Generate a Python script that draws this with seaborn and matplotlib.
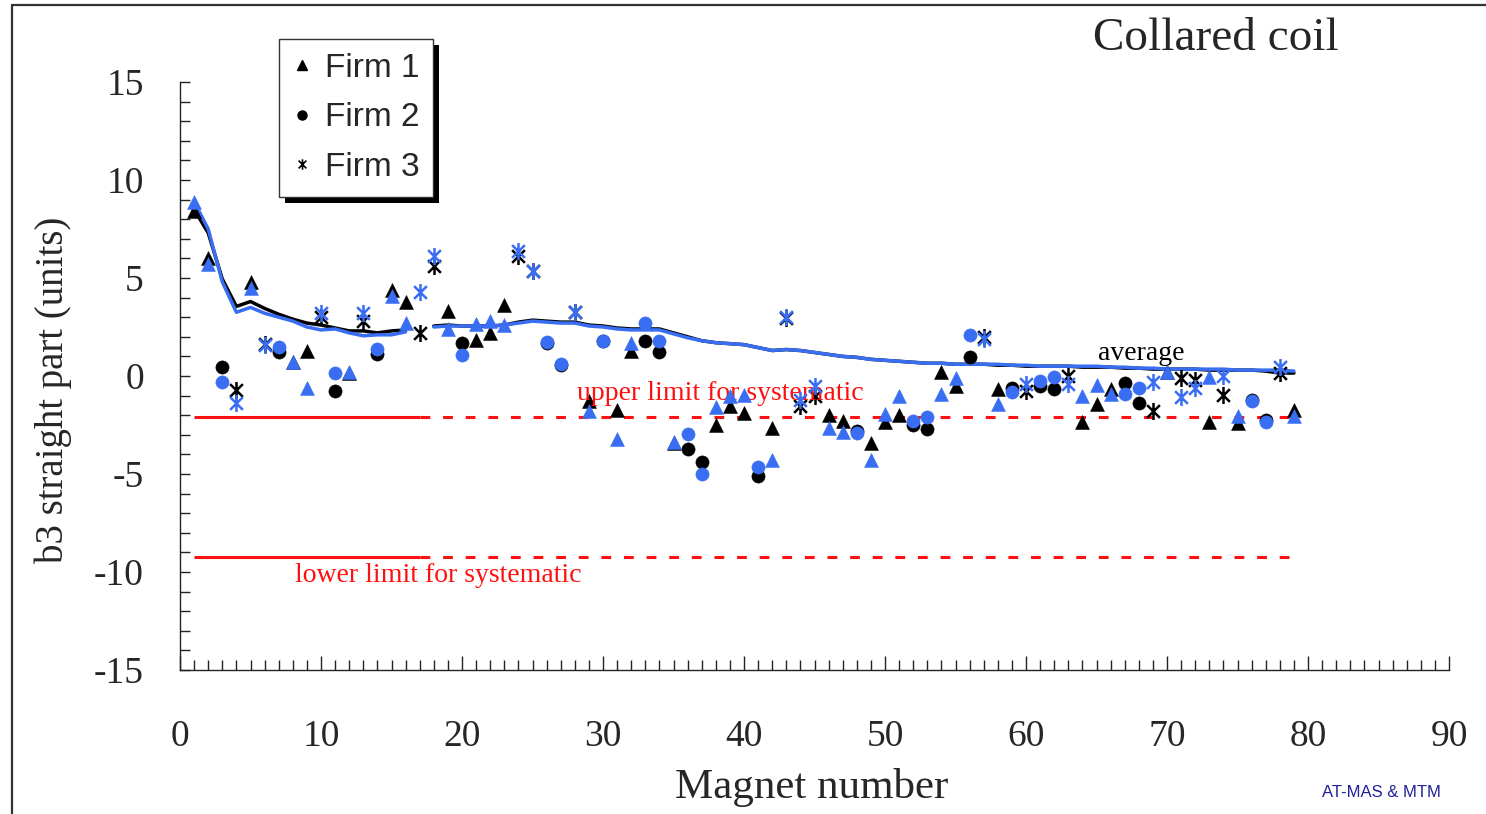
import numpy as np
import pandas as pd
import matplotlib
matplotlib.use("Agg")
import matplotlib.pyplot as plt
import seaborn as sns
from matplotlib.lines import Line2D
from matplotlib.patches import Rectangle
from matplotlib.path import Path
from matplotlib.ticker import MultipleLocator

# ---------------- data ----------------
magnet = list(range(1, 80))
firm = ["Firm 1", "Firm 1", "Firm 2", "Firm 3", "Firm 1", "Firm 3", "Firm 2", "Firm 1", "Firm 1", "Firm 3",
        "Firm 2", "Firm 1", "Firm 3", "Firm 2", "Firm 1", "Firm 1", "Firm 3", "Firm 3", "Firm 1", "Firm 2",
        "Firm 1", "Firm 1", "Firm 1", "Firm 3", "Firm 3", "Firm 2", "Firm 2", "Firm 3", "Firm 1", "Firm 2",
        "Firm 1", "Firm 1", "Firm 2", "Firm 2", "Firm 1", "Firm 2", "Firm 2", "Firm 1", "Firm 1", "Firm 1",
        "Firm 2", "Firm 1", "Firm 3", "Firm 3", "Firm 3", "Firm 1", "Firm 1", "Firm 2", "Firm 1", "Firm 1",
        "Firm 1", "Firm 2", "Firm 2", "Firm 1", "Firm 1", "Firm 2", "Firm 3", "Firm 1", "Firm 2", "Firm 3",
        "Firm 2", "Firm 2", "Firm 3", "Firm 1", "Firm 1", "Firm 1", "Firm 2", "Firm 2", "Firm 3", "Firm 1",
        "Firm 3", "Firm 3", "Firm 1", "Firm 3", "Firm 1", "Firm 2", "Firm 2", "Firm 3", "Firm 1"]

b3_black = [8.4, 6.0, 0.45, -0.7, 4.8, 1.65, 1.2, 0.7, 1.3, 3.0,
            -0.75, 0.15, 2.8, 1.1, 4.4, 3.8, 2.2, 5.6, 3.3, 1.7,
            1.85, 2.2, 3.6, 6.1, 5.35, 1.7, 0.55, 3.25, -1.3, 1.8,
            -1.75, 1.3, 1.8, 1.2, -3.4, -3.7, -4.4, -2.5, -1.55, -1.9,
            -5.1, -2.65, 2.95, -1.55, -1.0, -2.0, -2.3, -2.8, -3.4, -2.35,
            -2.0, -2.5, -2.7, 0.2, -0.5, 0.95, 2.0, -0.65, -0.6, -0.75,
            -0.5, -0.65, 0.0, -2.35, -1.45, -0.65, -0.35, -1.4, -1.8, 0.2,
            -0.1, -0.2, -2.35, -0.95, -2.4, -1.2, -2.25, 0.15, -1.75]

b3_blue = [8.9, 5.7, -0.3, -1.4, 4.5, 1.6, 1.5, 0.7, -0.6, 3.2,
           0.15, 0.2, 3.2, 1.4, 4.1, 2.7, 4.3, 6.1, 2.4, 1.05,
           2.65, 2.8, 2.6, 6.4, 5.35, 1.75, 0.6, 3.25, -1.8, 1.8,
           -3.2, 1.7, 2.7, 1.8, -3.35, -2.95, -5.0, -1.6, -1.0, -0.95,
           -4.65, -4.3, 3.0, -1.2, -0.5, -2.65, -2.85, -2.9, -4.3, -1.95,
           -1.0, -2.3, -2.1, -0.9, -0.1, 2.1, 1.9, -1.45, -0.8, -0.4,
           -0.25, -0.05, -0.4, -1.0, -0.45, -0.9, -0.9, -0.6, -0.3, 0.2,
           -1.05, -0.6, -0.05, 0.0, -2.05, -1.3, -2.35, 0.45, -2.05]

avg_black = [8.5, 7.3, 4.95, 3.55, 3.8, 3.45, 3.15, 2.9, 2.7, 2.6,
             2.45, 2.3, 2.3, 2.2, 2.3, 2.35, np.nan, 2.55, 2.6, 2.55,
             2.55, 2.55, 2.6, 2.75, 2.85, 2.8, 2.75, 2.75, 2.6, 2.55,
             2.45, 2.4, 2.4, 2.4, 2.2, 2.0, 1.8, 1.7, 1.65, 1.6,
             1.45, 1.3, 1.35, 1.3, 1.2, 1.1, 1.0, 0.95, 0.85, 0.8,
             0.75, 0.7, 0.65, 0.65, 0.6, 0.6, 0.6, 0.55, 0.55, 0.5,
             0.5, 0.5, 0.5, 0.45, 0.45, 0.45, 0.4, 0.4, 0.35, 0.35,
             0.35, 0.35, 0.3, 0.3, 0.3, 0.3, 0.25, 0.15, 0.15]

avg_blue = [8.9, 7.5, 4.8, 3.25, 3.5, 3.2, 3.0, 2.8, 2.5, 2.35,
            2.4, 2.2, 2.05, 2.1, 2.1, 2.25, np.nan, 2.5, 2.55, 2.55,
            2.55, 2.55, 2.6, 2.7, 2.8, 2.75, 2.7, 2.7, 2.55, 2.5,
            2.4, 2.35, 2.35, 2.35, 2.15, 1.95, 1.8, 1.7, 1.65, 1.6,
            1.45, 1.3, 1.35, 1.3, 1.2, 1.1, 1.0, 0.95, 0.85, 0.8,
            0.75, 0.7, 0.65, 0.65, 0.6, 0.6, 0.6, 0.6, 0.55, 0.55,
            0.5, 0.5, 0.5, 0.5, 0.5, 0.45, 0.45, 0.4, 0.4, 0.35,
            0.35, 0.35, 0.35, 0.35, 0.3, 0.3, 0.3, 0.3, 0.25]

upper_limit = -2.1
lower_limit = -9.25
limit_solid_x = [1, 17]
limit_dash_x = [17, 79]

firm_labels = ["Firm 1", "Firm 2", "Firm 3"]

# asterisk marker: an "x" crossed by a vertical stroke
star_path = Path([(0, -1), (0, 1), (-0.75, -0.75), (0.75, 0.75), (-0.75, 0.75), (0.75, -0.75)],
                 [Path.MOVETO, Path.LINETO, Path.MOVETO, Path.LINETO, Path.MOVETO, Path.LINETO])
firm_markers = {"Firm 1": "^", "Firm 2": "o", "Firm 3": star_path}

BLUE = "#3a6ef2"
RED = "#ff1010"

# ---------------- style ----------------
sns.set_style("ticks")
plt.rcParams["font.family"] = ["Liberation Serif", "DejaVu Serif"]
plt.rcParams["axes.unicode_minus"] = False

W, H = 1486, 814
fig = plt.figure(figsize=(W / 100, H / 100), dpi=100)
ax = fig.add_axes([180 / W, 1 - 670 / H, 1269 / W, 588 / H])

df = pd.DataFrame({"magnet": magnet, "firm": firm, "black": b3_black, "blue": b3_blue,
                   "avg_black": avg_black, "avg_blue": avg_blue})
df["segment"] = np.where(df["magnet"] < 17, 0, 1)
avg_df = df.dropna(subset=["avg_black"])

# limit lines
for lim in (upper_limit, lower_limit):
    ax.plot(limit_solid_x, [lim, lim], color=RED, lw=2.2, zorder=1, solid_capstyle="butt")
    ax.plot(limit_dash_x, [lim, lim], color=RED, lw=2.2, zorder=1, dashes=(3.2, 4.2))

# average lines
sns.lineplot(data=avg_df, x="magnet", y="avg_black", units="segment", estimator=None,
             color="black", lw=2.5, ax=ax, zorder=2)
sns.lineplot(data=avg_df, x="magnet", y="avg_blue", units="segment", estimator=None,
             color=BLUE, lw=2.5, ax=ax, zorder=2.5)

# points
for col, colour, z in (("black", "black", 3), ("blue", BLUE, 4)):
    for f in firm_labels:
        sub = df[df["firm"] == f]
        mk = firm_markers[f]
        if f == "Firm 3":
            sns.scatterplot(data=sub, x="magnet", y=col, marker=mk, color=colour, s=150,
                            edgecolor=colour, linewidth=1.8, legend=False, ax=ax, zorder=z)
        else:
            sns.scatterplot(data=sub, x="magnet", y=col, marker=mk, color=colour,
                            s=100 if f == "Firm 1" else 90, edgecolor=colour, linewidth=0.4,
                            legend=False, ax=ax, zorder=z)

# axes
ax.set_xlim(0, 90)
ax.set_ylim(-15, 15)
ax.xaxis.set_major_locator(MultipleLocator(10))
ax.xaxis.set_minor_locator(MultipleLocator(1))
ax.yaxis.set_major_locator(MultipleLocator(5))
ax.yaxis.set_minor_locator(MultipleLocator(1))
for s in ("top", "right"):
    ax.spines[s].set_visible(False)
for s in ("left", "bottom"):
    ax.spines[s].set_color("#222222")
    ax.spines[s].set_linewidth(1.0)
ax.tick_params(axis="x", which="major", direction="in", length=10, width=1, color="#222222",
               labelsize=27, pad=36, bottom=True, top=False)
ax.tick_params(axis="x", which="minor", direction="in", length=7.2, width=1, color="#222222",
               bottom=True, top=False)
ax.tick_params(axis="y", which="both", direction="in", length=7.2, width=1, color="#222222",
               labelsize=27, pad=26, left=True, right=False)
ax.set_xlabel("Magnet number", fontsize=31)
ax.xaxis.set_label_coords(0.498, -0.166)
ax.set_ylabel("b3 straight part (units)", fontsize=28)
ax.yaxis.set_label_coords(-0.085, 0.476)
ax.grid(False)

# annotations
ax.text(38.3, -1.2, "upper limit for systematic", color=RED, fontsize=20, ha="center", va="baseline")
ax.text(18.3, -10.5, "lower limit for systematic", color=RED, fontsize=20, ha="center", va="baseline")
ax.text(68.2, 0.82, "average", color="black", fontsize=20, ha="center", va="baseline")

fig.text(1216 / W, 1 - 50 / H, "Collared coil", fontsize=34, ha="center", va="baseline")
fig.text(1322 / W, 1 - 797 / H, "AT-MAS & MTM", fontsize=12, color="#20209a",
         family="Liberation Sans", ha="left", va="baseline")

# legend
handles = [
    Line2D([], [], marker="^", color="black", linestyle="none", markersize=7),
    Line2D([], [], marker="o", color="black", linestyle="none", markersize=6.5),
    Line2D([], [], marker=star_path, color="black", linestyle="none", markersize=7.5,
           markeredgewidth=1.2),
]
leg = fig.legend(handles, firm_labels, loc="upper left", bbox_to_anchor=(279 / W, 1 - 39 / H),
                 bbox_transform=fig.transFigure, borderaxespad=0, frameon=True, fancybox=False,
                 edgecolor="#333333", framealpha=1, prop={"family": "Liberation Sans", "size": 24},
                 handlelength=0.55, handletextpad=0.4, borderpad=0.42, labelspacing=0.55)
leg.get_frame().set_linewidth(1.0)
leg.set_zorder(10)

fig.canvas.draw()
bb = leg.get_window_extent()
shadow = Rectangle(((bb.x0 + 6) / W, (bb.y0 - 6) / H), bb.width / W, bb.height / H,
                   transform=fig.transFigure, facecolor="black", edgecolor="none", zorder=9)
fig.add_artist(shadow)

# outer frame (left and top edges)
fig.add_artist(Line2D([12 / W, 12 / W], [0, 1 - 5 / H], transform=fig.transFigure,
                      color="#333333", lw=1.6))
fig.add_artist(Line2D([12 / W, 1], [1 - 5 / H, 1 - 5 / H], transform=fig.transFigure,
                      color="#333333", lw=1.6))

fig.savefig("out.png", dpi=100)
